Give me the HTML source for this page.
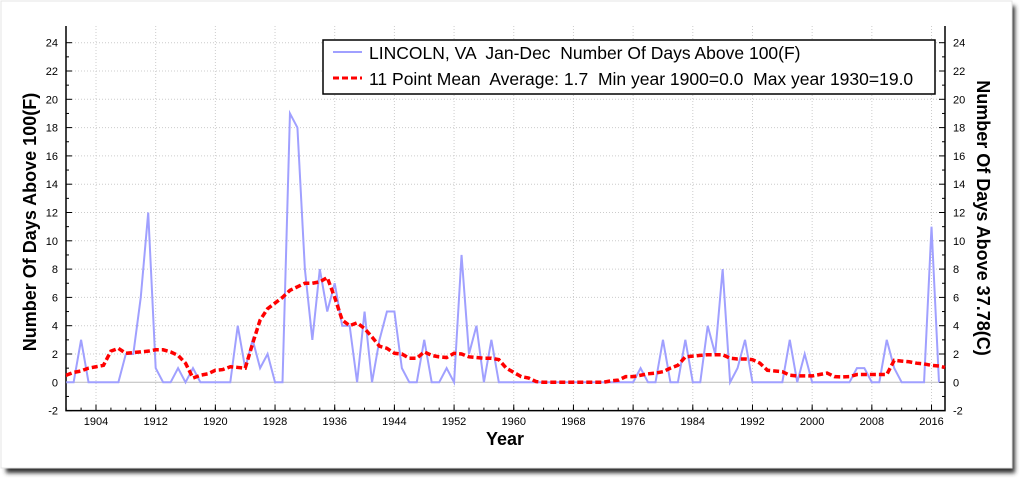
<!DOCTYPE html>
<html><head><meta charset="utf-8"><style>
body{margin:0;background:#fff;width:1024px;height:479px;overflow:hidden;font-family:"Liberation Sans",sans-serif}
</style></head><body>
<svg width="1024" height="479" viewBox="0 0 1024 479" xmlns="http://www.w3.org/2000/svg">
<defs><filter id="sh" x="-5%" y="-5%" width="110%" height="115%"><feGaussianBlur stdDeviation="2"/></filter></defs>
<rect x="6" y="6" width="1009" height="467" fill="#333" filter="url(#sh)"/>
<rect x="1" y="1" width="1011" height="467" fill="#fff" stroke="#e4e4e4"/>
<g id="grid"></g>
<g id="axes"></g>
<g id="series"></g>
<g>
<rect x="323" y="40" width="612" height="54" fill="#fff" stroke="#000" stroke-width="1.5"/>
<line x1="333" y1="52" x2="362" y2="52" stroke="#a0a0ff" stroke-width="2"/>
<text x="369" y="59" font-size="17.5" xml:space="preserve">LINCOLN, VA  Jan-Dec  Number Of Days Above 100(F)</text>
<line x1="333" y1="78" x2="362" y2="78" stroke="#f00" stroke-width="3" stroke-dasharray="6,3"/>
<text x="369" y="85" font-size="17.5" xml:space="preserve">11 Point Mean  Average: 1.7  Min year 1900=0.0  Max year 1930=19.0</text>
</g>
<text x="505" y="445" font-size="18" font-weight="bold" text-anchor="middle">Year</text>
<text transform="translate(36,222) rotate(-90)" font-size="18" font-weight="bold" text-anchor="middle">Number Of Days Above 100(F)</text>
<text transform="translate(977,218) rotate(90)" font-size="18" font-weight="bold" text-anchor="middle">Number Of Days Above 37.78(C)</text>
</svg>
<script>
const years=[];for(let y=1900;y<=2017;y++)years.push(y);
const days=[0,0,3,0,0,0,0,0,2,2,6,12,1,0,0,1,0,1,0,0,0,0,0,4,1,3,1,2,0,0,19,18,8,3,8,5,7,4,4,0,5,0,3,5,5,1,0,0,3,0,0,1,0,9,2,4,0,3,0,0,0,0,0,0,0,0,0,0,0,0,0,0,0,0,0,0,0,1,0,0,3,0,0,3,0,0,4,2,8,0,1,3,0,0,0,0,0,3,0,2,0,0,0,0,0,0,1,1,0,0,3,1,0,0,0,0,11,0];
const mean=[0.5,0.7,0.8,1.0,1.1,1.2,2.2,2.4,2.05,2.1,2.15,2.2,2.3,2.3,2.15,1.9,1.35,0.3,0.5,0.6,0.85,0.9,1.1,1.05,1.0,2.75,4.4,5.2,5.6,6.0,6.5,6.75,7.0,7.0,7.1,7.4,6.0,4.4,4.0,4.2,3.8,3.2,2.55,2.4,2.05,2.0,1.7,1.7,2.15,1.9,1.8,1.75,2.05,2.0,1.8,1.75,1.7,1.7,1.6,1.0,0.7,0.4,0.3,0.05,0,0,0,0,0,0,0,0,0,0.1,0.15,0.4,0.4,0.5,0.6,0.65,0.75,1.0,1.2,1.8,1.85,1.9,1.95,1.95,1.95,1.7,1.65,1.65,1.6,1.35,0.85,0.8,0.75,0.5,0.45,0.45,0.45,0.55,0.65,0.4,0.38,0.4,0.55,0.55,0.55,0.55,0.55,1.55,1.5,1.45,1.35,1.3,1.2,1.15];
const xTicks=[1904,1912,1920,1928,1936,1944,1952,1960,1968,1976,1984,1992,2000,2008,2016];
const yTicks=[-2,0,2,4,6,8,10,12,14,16,18,20,22,24];
const NS='http://www.w3.org/2000/svg';
const X0=66,X1=945,YT=26,YB=410.6;
const xs=y=>96+(y-1904)*7.46;
const ys=v=>382.3-v*14.15;
function mk(t,a,p){const e=document.createElementNS(NS,t);for(const k in a)e.setAttribute(k,a[k]);p.appendChild(e);return e;}
const grid=document.getElementById('grid'),axes=document.getElementById('axes'),ser=document.getElementById('series');
xTicks.forEach(t=>{const l=mk('line',{x1:xs(t),x2:xs(t),y1:YT,y2:YB,stroke:'#ccc','stroke-dasharray':'1,2'},grid);


const tx=mk('text',{x:xs(t),y:425,'font-size':11,'text-anchor':'middle'},axes);tx.textContent=t;


mk('line',{x1:xs(t),x2:xs(t),y1:YB,y2:YB-6,stroke:'#000'},axes);});
for(let y=1900;y<=2017;y+=2){mk('line',{x1:xs(y),x2:xs(y),y1:YB,y2:YB-3,stroke:'#000'},axes);}
yTicks.forEach(t=>{if(t>-2){const l=mk('line',{x1:X0,x2:X1,y1:ys(t),y2:ys(t),stroke:t===0?'#bbb':'#ccc','stroke-dasharray':t===0?'':'1,2'},grid);

}
const a=mk('text',{x:X0-8,y:ys(t)+4,'font-size':11,'text-anchor':'end'},axes);a.textContent=t;


const b=mk('text',{x:X1+8,y:ys(t)+4,'font-size':11},axes);b.textContent=t;


mk('line',{x1:X0,x2:X0+6,y1:ys(t),y2:ys(t),stroke:'#000'},axes);mk('line',{x1:X1,x2:X1-6,y1:ys(t),y2:ys(t),stroke:'#000'},axes);
if(t<24){mk('line',{x1:X0,x2:X0+3,y1:ys(t+1),y2:ys(t+1),stroke:'#000'},axes);mk('line',{x1:X1,x2:X1-3,y1:ys(t+1),y2:ys(t+1),stroke:'#000'},axes);}});
mk('polyline',{points:`${X0},${YT} ${X0},${YB} ${X1},${YB} ${X1},${YT}`,fill:'none',stroke:'#000','stroke-width':1.5},axes);
const p1=mk('polyline',{points:years.map((y,i)=>xs(y)+','+ys(days[i])).join(' '),fill:'none',stroke:'#a0a0ff','stroke-width':2},ser);


const pts=years.map((y,i)=>xs(y)+','+ys(mean[i]));pts.unshift(X0+','+ys(mean[0]));pts.push(X1+','+ys(mean[mean.length-1]-0.1));
const p2=mk('polyline',{points:pts.join(' '),fill:'none',stroke:'#f00','stroke-width':3.5,'stroke-dasharray':'6,3'},ser);


</script>
</body></html>
